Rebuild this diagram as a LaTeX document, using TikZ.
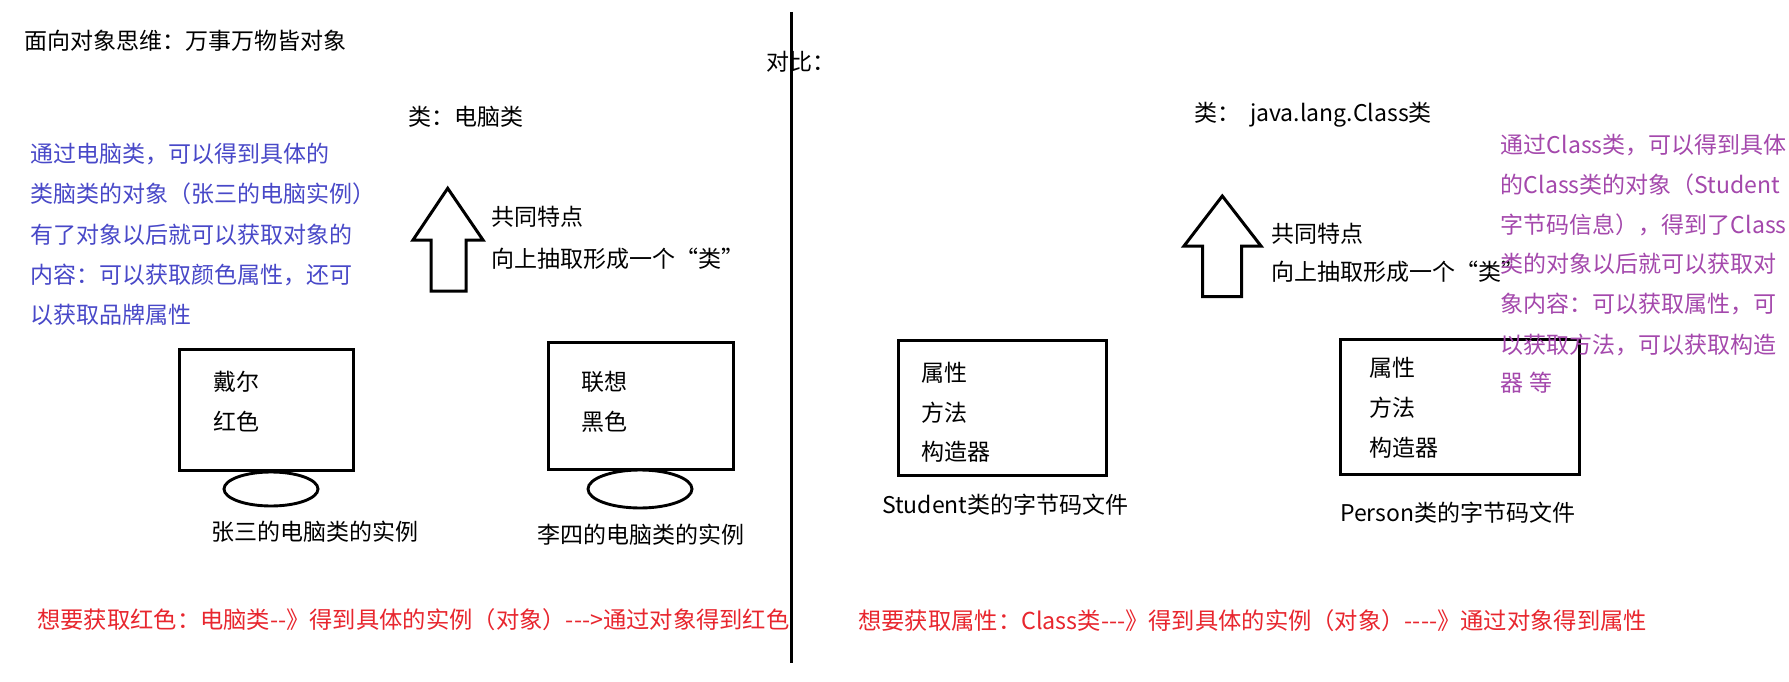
\documentclass[tikz,border=0pt]{standalone}
\usepackage{fontspec}
\setmainfont{Noto Sans CJK SC}
\usetikzlibrary{shapes.geometric}
\definecolor{myblue}{RGB}{72,72,200}
\definecolor{mypurple}{RGB}{164,72,172}
\definecolor{myred}{RGB}{232,38,46}
\tikzset{
  txt/.style={anchor=west, inner sep=0pt, font=\fontsize{23}{27}\selectfont},
  bluetxt/.style={txt, text=myblue},
  purtxt/.style={txt, text=mypurple},
  redtxt/.style={txt, text=myred, font=\fontsize{23.3}{27}\selectfont},
  boxshape/.style={draw, line width=3.2pt, anchor=north west, inner sep=0pt},
  foot/.style={draw, ellipse, line width=2.9pt, inner sep=0pt},
  bigarrow/.style={draw, line width=3pt, line join=miter, fill=white},
}
\begin{document}
\begin{tikzpicture}[x=1pt,y=-1pt]
\fill[white] (0,0) rectangle (1789,682);
\useasboundingbox (0,0) rectangle (1789,682);

% ---------- left half ----------
\node[txt] (title) at (24,41) {面向对象思维：万事万物皆对象};
\node[txt] (cmp) at (766,62) {对比：};
\node[txt] (cls1) at (408,117) {类：电脑类};

\node[bluetxt] (b1) at (30,154) {通过电脑类，可以得到具体的};
\node[bluetxt] (b2) at (30,194) {类脑类的对象（张三的电脑实例）};
\node[bluetxt] (b3) at (30,234.5) {有了对象以后就可以获取对象的};
\node[bluetxt] (b4) at (30,274.5) {内容：可以获取颜色属性，还可};
\node[bluetxt] (b5) at (30,315) {以获取品牌属性};

\draw[bigarrow] (447.7,188.3) -- (483,240) -- (466,240) -- (466,291)
  -- (431,291) -- (431,240) -- (413,240) -- cycle;
\node[txt] (f1) at (491,217) {共同特点};
\node[txt] (f2) at (491,259) {向上抽取形成一个“类”};

\node[boxshape, minimum width=174pt, minimum height=121pt] (box1) at (178,348) {};
\node[txt] (d1) at (213.5,381.7) {戴尔};
\node[txt] (d2) at (213.5,421.7) {红色};
\node[foot, minimum width=94pt, minimum height=34pt] (e1) at (271,489) {};
\node[txt] (z1) at (211,531.7) {张三的电脑类的实例};

\node[boxshape, minimum width=185pt, minimum height=127pt] (box2) at (547,341) {};
\node[txt] (l1) at (581.5,381.7) {联想};
\node[txt] (l2) at (581.5,421.7) {黑色};
\node[foot, minimum width=104pt, minimum height=38pt] (e2) at (640,489) {};
\node[txt] (z2) at (537,535) {李四的电脑类的实例};

\node[redtxt] (r1) at (37,620) {想要获取红色：电脑类-\kern0pt-》得到具体的实例（对象）-\kern0pt-\kern0pt-\kern0pt>通过对象得到红色};

% ---------- right half ----------
\node[txt] (cls2) at (1194,115) {类：\hspace{10pt}java.lang.Class类};

\draw[bigarrow] (1222.3,196) -- (1261,246) -- (1241.6,246) -- (1241.6,296.7)
  -- (1202.6,296.7) -- (1202.6,246) -- (1184,246) -- cycle;
\node[txt] (g1) at (1271.7,233.3) {共同特点};
\node[txt] (g2) at (1271.7,271.7) {向上抽取形成一个“类”};

\node[boxshape, minimum width=208pt, minimum height=135pt] (box3) at (897,339) {};
\node[txt] (s1a) at (921.5,372.7) {属性};
\node[txt] (s1b) at (921.5,412.7) {方法};
\node[txt] (s1c) at (921.5,451.7) {构造器};
\node[txt] (s1) at (882,505) {Student类的字节码文件};

\node[boxshape, minimum width=239pt, minimum height=134.7pt] (box4) at (1339,338) {};
\node[txt] (s2a) at (1369,367.7) {属性};
\node[txt] (s2b) at (1369,408) {方法};
\node[txt] (s2c) at (1369,448) {构造器};
\node[txt] (s2) at (1340,512.7) {Person类的字节码文件};

\node[redtxt] (r2) at (858,620.7) {想要获取属性：Class类-\kern0pt-\kern0pt-》得到具体的实例（对象）-\kern0pt-\kern0pt-\kern0pt-》通过对象得到属性};

\node[purtxt] (p1) at (1500.7,145) {通过Class类，可以得到具体};
\node[purtxt] (p2) at (1500.7,185) {的Class类的对象（Student};
\node[purtxt] (p3) at (1500.7,224.5) {字节码信息），得到了Class};
\node[purtxt] (p4) at (1500.7,264) {类的对象以后就可以获取对};
\node[purtxt] (p5) at (1500.7,304) {象内容：可以获取属性，可};
\node[purtxt] (p6) at (1500.7,344.5) {以获取方法，可以获取构造};
\node[purtxt] (p7) at (1500.7,383) {器 等};

% ---------- divider ----------
\coordinate (vtop) at (791,12);
\coordinate (vbot) at (791,663);
\draw[line width=3pt] (vtop) -- (vbot);
\end{tikzpicture}
\end{document}
